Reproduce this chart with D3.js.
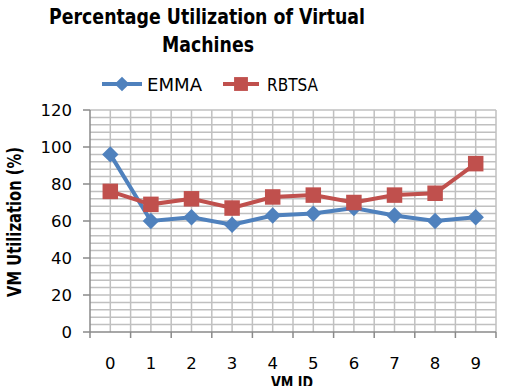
<!DOCTYPE html>
<html>
<head>
<meta charset="utf-8">
<script src="https://cdn.jsdelivr.net/npm/d3@7"></script>
<style>
  body { margin: 0; background: #fff; }
  text { font-family: "DejaVu Sans", sans-serif; fill: #000; }
</style>
</head>
<body>
<div id="chart"></div>
<script>
// data
const vmIds = ["0", "1", "2", "3", "4", "5", "6", "7", "8", "9"];
const emma = [96, 60, 62, 58, 63, 64, 67, 63, 60, 62];
const rbtsa = [76, 69, 72, 67, 73, 74, 70, 74, 75, 91];
const yTicks = [0, 20, 40, 60, 80, 100, 120];

const width = 506, height = 386;
const margin = { left: 90, right: 10, top: 110, bottom: 54 };

const svg = d3.select("#chart").append("svg")
    .attr("width", width)
    .attr("height", height);

const x = d3.scaleBand()
    .domain(vmIds)
    .range([margin.left, width - margin.right]);

const y = d3.scaleLinear()
    .domain([0, 120])
    .range([height - margin.bottom, margin.top]);

// Gridlines: minor every 4 units, vertical at band edges and centres
const grid = svg.append("g").attr("stroke", "#c0c0c0").attr("stroke-width", 1.5);
grid.selectAll("line.h")
    .data(d3.range(4, 121, 4))
    .enter()
    .append("line")
        .attr("x1", margin.left).attr("x2", width - margin.right)
        .attr("y1", d => y(d)).attr("y2", d => y(d));

const vPos = [];
vmIds.forEach(id => { vPos.push(x(id) + x.bandwidth() / 2); vPos.push(x(id) + x.bandwidth()); });
grid.selectAll("line.v")
    .data(vPos)
    .enter()
    .append("line")
        .attr("x1", d => d).attr("x2", d => d)
        .attr("y1", y(0)).attr("y2", y(120));

// Axes
const axisColor = "#8a8a8a";
const ax = svg.append("g").attr("stroke", axisColor).attr("stroke-width", 1.5);
ax.append("line")
    .attr("x1", margin.left).attr("x2", margin.left)
    .attr("y1", y(0)).attr("y2", y(120));
ax.append("line")
    .attr("x1", margin.left).attr("x2", width - margin.right)
    .attr("y1", y(0)).attr("y2", y(0));
ax.selectAll("line.yt")
    .data(yTicks)
    .enter()
    .append("line")
        .attr("x1", margin.left - 7).attr("x2", margin.left)
        .attr("y1", d => y(d)).attr("y2", d => y(d));
ax.selectAll("line.xt")
    .data([margin.left].concat(vmIds.map(id => x(id) + x.bandwidth())))
    .enter()
    .append("line")
        .attr("x1", d => d).attr("x2", d => d)
        .attr("y1", y(0)).attr("y2", y(0) + 6);

// Tick labels
svg.append("g")
    .selectAll("text")
    .data(yTicks)
    .enter()
    .append("text")
        .attr("x", 72)
        .attr("y", d => y(d))
        .attr("dy", "0.36em")
        .attr("text-anchor", "end")
        .attr("font-size", 16.5)
        .text(d => d);

svg.append("g")
    .selectAll("text")
    .data(vmIds)
    .enter()
    .append("text")
        .attr("x", d => x(d) + x.bandwidth() / 2)
        .attr("y", 369)
        .attr("text-anchor", "middle")
        .attr("font-size", 16.5)
        .text(d => d);

// Series
const series = [
    { name: "EMMA", values: emma, color: "#4f81bd", rotate: 45, size: 135 },
    { name: "RBTSA", values: rbtsa, color: "#c0504d", rotate: 0, size: 240 }
];

const line = d3.line()
    .x((d, i) => x(vmIds[i]) + x.bandwidth() / 2)
    .y(d => y(d));

series.forEach(s => {
    svg.append("path")
        .datum(s.values)
        .attr("fill", "none")
        .attr("stroke", s.color)
        .attr("stroke-width", 4)
        .attr("d", line);
    svg.append("g")
        .selectAll("path")
        .data(s.values)
        .enter()
        .append("path")
            .attr("transform", (d, i) => `translate(${x(vmIds[i]) + x.bandwidth() / 2},${y(d)}) rotate(${s.rotate})`)
            .attr("d", d3.symbol().type(d3.symbolSquare).size(s.size))
            .attr("fill", s.color);
});

// Legend
const legendItems = [
    { x1: 102, x2: 142, tx: 147, tl: 55 },
    { x1: 223, x2: 259, tx: 267, tl: 51 }
];
series.forEach((s, i) => {
    const g = svg.append("g");
    const li = legendItems[i];
    g.append("line")
        .attr("x1", li.x1).attr("x2", li.x2)
        .attr("y1", 84).attr("y2", 84)
        .attr("stroke", s.color).attr("stroke-width", 4);
    g.append("path")
        .attr("transform", `translate(${(li.x1 + li.x2) / 2},84) rotate(${s.rotate})`)
        .attr("d", d3.symbol().type(d3.symbolSquare).size(s.size * 0.8))
        .attr("fill", s.color);
    g.append("text")
        .attr("x", li.tx).attr("y", 90.5)
        .attr("font-size", 18)
        .attr("textLength", li.tl)
        .attr("lengthAdjust", "spacingAndGlyphs")
        .text(s.name);
});

// Titles
svg.append("text")
    .attr("x", 49).attr("y", 24)
    .attr("font-size", 22).attr("font-weight", "bold")
    .attr("textLength", 316).attr("lengthAdjust", "spacingAndGlyphs")
    .text("Percentage Utilization of Virtual");
svg.append("text")
    .attr("x", 162).attr("y", 52)
    .attr("font-size", 22).attr("font-weight", "bold")
    .attr("textLength", 92).attr("lengthAdjust", "spacingAndGlyphs")
    .text("Machines");

svg.append("text")
    .attr("transform", "translate(21,297) rotate(-90)")
    .attr("font-size", 19).attr("font-weight", "bold")
    .attr("textLength", 150).attr("lengthAdjust", "spacingAndGlyphs")
    .text("VM Utilization (%)");

svg.append("text")
    .attr("x", 271).attr("y", 388)
    .attr("font-size", 16).attr("font-weight", "bold")
    .attr("textLength", 42).attr("lengthAdjust", "spacingAndGlyphs")
    .text("VM ID");
</script>
</body>
</html>
